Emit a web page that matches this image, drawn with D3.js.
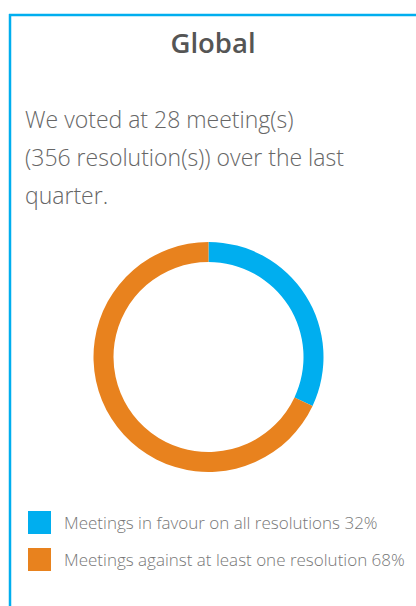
<!DOCTYPE html>
<html>
<head>
<meta charset="utf-8">
<script src="https://cdn.jsdelivr.net/npm/d3@7"></script>
<style>
  body { margin: 0; background: #fff; }
  svg { display: block; }
</style>
</head>
<body>
<script>
// data
const title = "Global";
const summaryLines = ["We voted at 28 meeting(s)", "(356 resolution(s)) over the last", "quarter."];
const categories = ["Meetings in favour on all resolutions", "Meetings against at least one resolution"];
const values = [32, 68];
const colors = ["#00aeef", "#e8821e"];

const width = 416, height = 606;

const svg = d3.select("body").append("svg")
    .attr("width", width)
    .attr("height", height);

// panel border (top + left only visible)
svg.append("line")
    .attr("x1", 9).attr("x2", width)
    .attr("y1", 15).attr("y2", 15)
    .attr("stroke", "#00aeef").attr("stroke-width", 2.5);
svg.append("line")
    .attr("x1", 10).attr("x2", 10)
    .attr("y1", 14).attr("y2", height)
    .attr("stroke", "#00aeef").attr("stroke-width", 2.5);

// title
svg.append("text")
    .attr("x", 213)
    .attr("y", 53)
    .attr("text-anchor", "middle")
    .attr("font-family", "Open Sans")
    .attr("font-weight", 600)
    .attr("font-size", "27.5px")
    .attr("fill", "#555")
    .text(title);

// summary
svg.append("g").selectAll("text")
    .data(summaryLines)
    .enter().append("text")
    .attr("x", 25)
    .attr("y", (d, i) => 128 + i * 38)
    .attr("font-family", "Open Sans")
    .attr("font-weight", 300)
    .attr("font-size", "23px")
    .attr("fill", "#666")
    .text(d => d);

// donut
const cx = 208.5, cy = 357;
const pie = d3.pie().sort(null).value(d => d);
const arc = d3.arc().innerRadius(95).outerRadius(115);

svg.append("g")
    .attr("transform", `translate(${cx},${cy})`)
    .selectAll("path")
    .data(pie(values))
    .enter().append("path")
    .attr("d", arc)
    .attr("fill", (d, i) => colors[i]);

// legend
const legend = svg.append("g").selectAll("g")
    .data(categories)
    .enter().append("g")
    .attr("transform", (d, i) => `translate(28,${511 + i * 37})`);

legend.append("rect")
    .attr("width", 23)
    .attr("height", 23)
    .attr("fill", (d, i) => colors[i]);

legend.append("text")
    .attr("x", 36)
    .attr("y", 18)
    .attr("font-family", "Open Sans")
    .attr("font-weight", 300)
    .attr("font-size", "17px")
    .attr("fill", "#777")
    .text((d, i) => `${d} ${values[i]}%`);
</script>
</body>
</html>
